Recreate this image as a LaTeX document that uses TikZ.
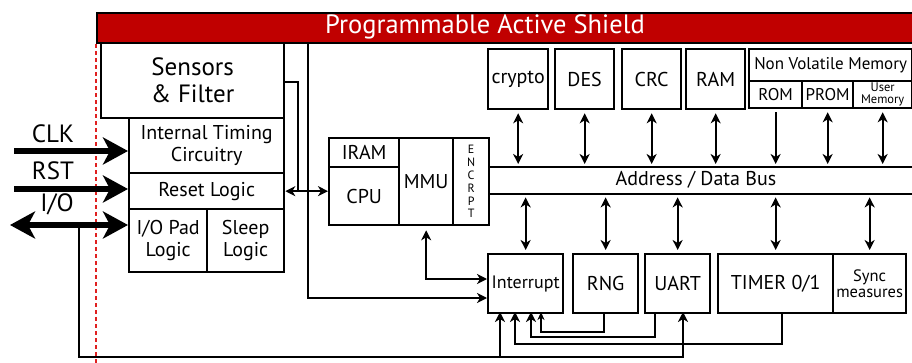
\documentclass[tikz,border=0pt]{standalone}
\usepackage{fontspec}
\setmainfont{PT Sans}
\usetikzlibrary{arrows.meta,calc}
\definecolor{shieldred}{HTML}{C00000}
\definecolor{edgered}{HTML}{E02020}

\tikzset{
  blk/.style={draw, line width=2.3pt, inner sep=0pt, align=center, fill=white},
  wire/.style={line width=2.2pt},
  tip/.style={-{Stealth[length=10pt,width=10pt,inset=3pt]}},
  tipb/.style={{Stealth[length=10pt,width=10pt,inset=3pt]}-{Stealth[length=10pt,width=10pt,inset=3pt]}},
  tips/.style={-{Stealth[length=8pt,width=7pt,inset=2.5pt]}},
  bigtip/.style={line width=5.5pt, -{Stealth[length=25pt,width=27pt,inset=7pt]}},
  bigtipb/.style={line width=5.5pt, {Stealth[length=25pt,width=27pt,inset=7pt]}-{Stealth[length=25pt,width=27pt,inset=7pt]}},
  gap/.style={shorten <=3pt, shorten >=3pt},
  fxl/.style={font=\fontsize{26.5}{28}\selectfont},
  fl/.style={font=\fontsize{25}{27}\selectfont},
  fm/.style={font=\fontsize{20}{21.5}\selectfont},
  fs/.style={font=\fontsize{17}{18}\selectfont},
  fxs/.style={font=\fontsize{16.5}{16}\selectfont},
}

\begin{document}
\begin{tikzpicture}[x=1pt,y=-1pt]
\useasboundingbox (0,0) rectangle (912,363);

% shield bar across the top
\node[draw, line width=2.3pt, fill=shieldred, minimum width=830pt, minimum height=30pt,
      inner sep=0pt, anchor=north west] (shield) at (96,12) {};
\node[text=white, fxl] (title) at (485,27) {Programmable Active Shield};

% boundary of the chip
\draw[edgered, line width=1.1pt, dash pattern=on 4pt off 3pt] (shield.south west) -- (96,363);

% left column
\node[blk, minimum width=183pt, minimum height=75pt, anchor=north west, fl] (sensors) at (100,42) {Sensors\\\& Filter};
\node[blk, minimum width=155pt, minimum height=55pt, anchor=north west, fm] (timing) at (128,117) {Internal Timing\\Circuitry};
\node[blk, minimum width=155pt, minimum height=36pt, anchor=north west, fm] (reset) at (128,172) {Reset Logic};
\node[blk, minimum width=78pt, minimum height=63pt, anchor=north west, fm] (iopad) at (128,208) {I/O Pad\\Logic};
\node[blk, minimum width=77pt, minimum height=63pt, anchor=north west, fm] (sleep) at (206,208) {Sleep\\Logic};

% processor core
\node[blk, minimum width=70pt, minimum height=29pt, anchor=north west, fm] (iram) at (328,137) {IRAM};
\node[blk, minimum width=70pt, minimum height=58pt, anchor=north west, fm] (cpu) at (328,166) {CPU};
\node[blk, minimum width=54pt, minimum height=87pt, anchor=north west, fm] (mmu) at (398,137) {MMU};
\node[blk, minimum width=36pt, minimum height=87pt, anchor=north west,
      font=\fontsize{12}{12.8}\selectfont] (encr) at (452,137) {E\\N\\C\\R\\P\\T};

% address / data bus
\node[minimum width=428pt, minimum height=27pt, inner sep=0pt, anchor=north west] (bus) at (488,167) {};
\draw[wire] (bus.north west) -- (bus.north east);
\draw[wire] (bus.south west) -- (bus.south east);
\node[fm] (buslabel) at (696,180) {Address / Data Bus};

% peripherals above the bus
\node[blk, minimum width=60pt, minimum height=60pt, anchor=north west, fm] (crypto) at (487,48) {crypto};
\node[blk, minimum width=59pt, minimum height=60pt, anchor=north west, fm] (des) at (554,48) {DES};
\node[blk, minimum width=59pt, minimum height=60pt, anchor=north west, fm] (crc) at (621,48) {CRC};
\node[blk, minimum width=59pt, minimum height=60pt, anchor=north west, fm] (ram) at (685,48) {RAM};
\node[blk, minimum width=163pt, minimum height=32pt, anchor=north west, fs] (nvm) at (748,48) {Non Volatile Memory};
\node[blk, minimum width=53pt, minimum height=27pt, anchor=north west, fs] (rom) at (748,80) {ROM};
\node[blk, minimum width=51pt, minimum height=27pt, anchor=north west, fs] (prom) at (801,80) {PROM};
\node[blk, minimum width=59pt, minimum height=27pt, anchor=north west,
      font=\fontsize{12.5}{12}\selectfont] (user) at (852,80) {User\\Memory};

% peripherals below the bus
\node[blk, minimum width=75pt, minimum height=59pt, anchor=north west,
      font=\fontsize{18}{20}\selectfont] (intr) at (487,253) {Interrupt};
\node[blk, minimum width=65pt, minimum height=59pt, anchor=north west, fm] (rng) at (572,253) {RNG};
\node[blk, minimum width=65pt, minimum height=59pt, anchor=north west, fm] (uart) at (644,253) {UART};
\node[blk, minimum width=115pt, minimum height=59pt, anchor=north west, fm] (timer) at (717,253) {TIMER 0/1};
\node[blk, minimum width=73pt, minimum height=59pt, anchor=north west, fxs] (sync) at (832,253) {Sync\\measures};

% bus connections
\foreach \n in {crypto,des,crc,ram,prom,user}
  \draw[wire, tipb, gap] (\n.south) -- (\n.south |- bus.north);
\draw[wire, tip, gap] (rom.south) -- (rom.south |- bus.north);
\foreach \n in {intr,rng,uart,timer,sync}
  \draw[wire, tipb, gap] (\n.north) -- (\n.north |- bus.south);

% external pins
\coordinate (clkin) at (14,151);
\coordinate (rstin) at (14,189);
\coordinate (ioin) at (10,225);
\coordinate (iotap) at (79,225);
\node[fl] (clklbl) at (53,134) {CLK};
\node[fl] (rstlbl) at (53,171) {RST};
\node[fl] (iolbl) at (57,204) {I/O};
\draw[bigtip] (clkin) -- (clkin -| timing.west);
\draw[bigtip] (rstin) -- (rstin -| reset.west);
\draw[bigtipb] (ioin) -- (ioin -| iopad.west);

% sensors and reset logic to the core
\coordinate (sensout) at (283,82);
\coordinate (sensdrop) at (298,82);
\draw[wire] (sensout) -- (sensdrop) -- (sensdrop |- reset.east);
\draw[wire, tipb] (reset.east) -- (reset.east -| cpu.west);

% shield line to the interrupt controller
\coordinate (shtap) at (308,42);
\coordinate (intin2) at (487,298);
\draw[wire, tip] (shtap) |- (intin2);

% MMU to the interrupt controller
\coordinate (intin1) at (487,279);
\draw[wire, tipb, shorten <=4pt] (mmu.south) |- (intin1);

% interrupt sources
\coordinate (rngout) at (604,312);
\coordinate (uartout) at (655,312);
\coordinate (timout) at (782,312);
\coordinate (intb1) at (500,312);
\coordinate (intb2) at (515,312);
\coordinate (intb3) at (531,312);
\coordinate (intb4) at (541,312);
\coordinate (uartin) at (683,312);
\draw[wire, tips] (rngout) -- (604,332) -| (intb4);
\draw[wire, tip] (uartout) -- (655,337) -| (intb3);
\draw[wire, tip] (timout) -- (782,344) -| (intb2);
\draw[wire, tip] (iotap) -- (79,357) -| (uartin);
\draw[wire, tip] (500,357) -- (intb1);
\end{tikzpicture}
\end{document}
